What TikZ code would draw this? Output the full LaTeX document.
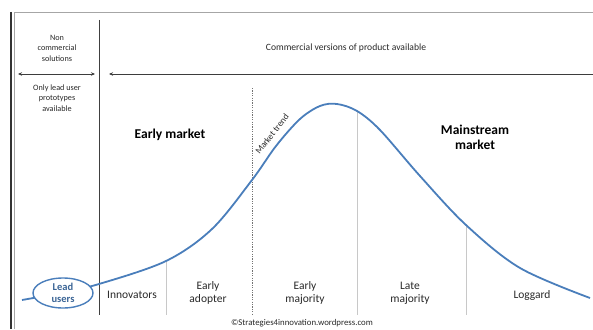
\documentclass[tikz,border=0pt]{standalone}
\usepackage{fontspec}
\setmainfont{Carlito}
\usetikzlibrary{arrows.meta,shapes.geometric}
\definecolor{curveblue}{RGB}{74,126,187}
\definecolor{txt}{RGB}{40,40,40}
\definecolor{divgray}{RGB}{200,200,200}
\tikzset{
  small/.style={font=\fontsize{8.2}{10.5}\selectfont, text=txt, align=center, inner sep=0pt},
  lbl/.style={font=\fontsize{11.5}{13}\selectfont, text=txt, align=center, inner sep=0pt},
  bigb/.style={font=\bfseries\fontsize{13.5}{15}\selectfont, text=black, align=center, inner sep=0pt},
  arr/.style={draw=txt!90, line width=0.9pt, -{Stealth[length=4pt,width=3.5pt]}},
  divider/.style={draw=divgray, line width=0.8pt},
}
\begin{document}
\begin{tikzpicture}[x=1pt,y=-1pt]
\useasboundingbox (0,0) rectangle (593,329);
% frame
\draw[line width=1.2pt, draw=black!80] (11,12) -- (11,329);
\draw[line width=0.8pt, draw=black!35] (14,329) -- (14,12) -- (593,12);
% main divider
\draw[line width=0.9pt, draw=black!75] (99,20) -- (99,315);
% segment dividers
\draw[divider] (166,262) -- (166,315);
\draw[divider] (357,112) -- (357,315);
\draw[divider] (466,225) -- (466,315);
\draw[draw=black!55, line width=0.8pt, dash pattern=on 1.2pt off 1.2pt] (252,88) -- (252,315);
% top texts and arrows
\node[small] (noncom) at (57,48) {Non\\commercial\\solutions};
\node[small] (onlylead) at (57,98) {Only lead user\\prototypes\\available};
\coordinate (nl) at (18,74);
\coordinate (nr) at (95,74);
\draw[arr, {Stealth[length=4pt,width=3.5pt]}-{Stealth[length=4pt,width=3.5pt]}] (nl) -- (nr);
\node[small, font=\fontsize{9.6}{11}\selectfont] (comm) at (346,48) {Commercial versions of product available};
\coordinate (cr) at (593,74);
\coordinate (cl) at (109,74);
\draw[arr] (cr) -- (cl);
% curve
\draw[curveblue, line width=1.8pt] plot[smooth, tension=0.55] coordinates {
 (22,300) (60,293) (99,284) (166,261) (212,229) (252,180) (276,146) (300,119) (320,106) (337,104) (357,111) (380,130) (420,176) (466,225) (520,268) (590,298)};
% lead users ellipse
\node[draw=curveblue, line width=1.4pt, fill=white, ellipse, minimum width=60pt, minimum height=30pt, inner sep=0pt, align=center, font=\bfseries\fontsize{10.5}{11.5}\selectfont, text=curveblue!80!black] (lead) at (63,293) {Lead\\users};
% market labels
\node[bigb] (early) at (170,135) {Early market};
\node[bigb] (main) at (475,137) {Mainstream\\market};
\node[small, font=\fontsize{9}{10}\selectfont, rotate=52] (trend) at (272,134) {Market trend};
% segment labels
\node[lbl] (inn) at (132,295) {Innovators};
\node[lbl] (ea) at (208,293) {Early\\adopter};
\node[lbl] (em) at (305,293) {Early\\majority};
\node[lbl] (lm) at (410,293) {Late\\majority};
\node[lbl] (log) at (532,295) {Loggard};
\node[small, font=\fontsize{8.8}{10}\selectfont] (copy) at (302,323.5) {©Strategies4innovation.wordpress.com};
\end{tikzpicture}
\end{document}
